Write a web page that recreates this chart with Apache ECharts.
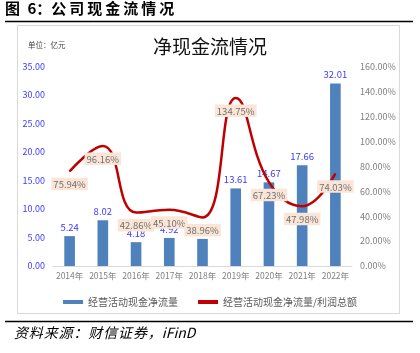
<!DOCTYPE html>
<html>
<head>
<meta charset="utf-8">
<script src="https://cdn.jsdelivr.net/npm/echarts@6/dist/echarts.min.js"></script>
<style>
  html, body { margin: 0; padding: 0; background: #fff; }
  #chart { width: 420px; height: 353px; }
</style>
</head>
<body>
<div id="chart"></div>
<script>
// data
const years = ['2014年', '2015年', '2016年', '2017年', '2018年', '2019年', '2020年', '2021年', '2022年'];
const cashFlow = [5.24, 8.02, 4.18, 4.92, 4.75, 13.61, 14.67, 17.66, 32.01];
const cashToProfit = [75.94, 96.16, 42.86, 45.10, 38.96, 134.75, 67.23, 47.98, 74.03];

const FONT = '"Noto Sans CJK SC", "Noto Sans", sans-serif';
const spaced = (s, sp) => s.split('').join(sp);

const chart = echarts.init(document.getElementById('chart'));

const option = {
  backgroundColor: '#fff',
  textStyle: { fontFamily: FONT },
  title: {
    text: '净现金流情况',
    left: 'center',
    top: 32,
    textStyle: { fontSize: 19, fontWeight: 'normal', color: '#111', fontFamily: FONT },
  },
  graphic: [
    {
      type: 'text',
      left: 5,
      top: 1,
      style: { text: '图\u2002' + '6：' + spaced('公司现金流情况', '\u2009'), fill: '#000', font: 'bold 15px ' + FONT },
    },
    { type: 'line', shape: { x1: 5, y1: 21.5, x2: 413, y2: 21.5 }, style: { stroke: '#000', lineWidth: 1.5 } },
    { type: 'rect', shape: { x: 17.5, y: 25.5, width: 382, height: 288 }, style: { fill: 'none', stroke: '#d9d9d9', lineWidth: 1 } },
    { type: 'text', left: 28, top: 41, style: { text: '单位：亿元', fill: '#444', font: '7.5px ' + FONT } },
    { type: 'line', shape: { x1: 5, y1: 321.5, x2: 413, y2: 321.5 }, style: { stroke: '#000', lineWidth: 1.5 } },
    {
      type: 'text',
      left: 14,
      top: 326,
      style: { text: spaced('资料来源：财信证券，', '\u200a') + 'iFinD', fill: '#000', font: 'italic 14px ' + FONT },
    },
  ],
  legend: {
    left: 'center',
    top: 292,
    itemGap: 20,
    itemWidth: 20,
    itemHeight: 4,
    textStyle: { fontSize: 10, color: '#595959', fontFamily: FONT },
    data: [
      { name: '经营活动现金净流量', icon: 'rect' },
      { name: '经营活动现金净流量/利润总额', icon: 'rect' },
    ],
  },
  grid: { left: 53, right: 68, top: 66.5, bottom: 87 },
  xAxis: {
    type: 'category',
    data: years,
    axisLine: { lineStyle: { color: '#d9d9d9' } },
    axisTick: { show: false },
    axisLabel: { interval: 0, fontSize: 8.5, color: '#808080', margin: 6, fontFamily: FONT },
  },
  yAxis: [
    {
      type: 'value',
      min: 0,
      max: 35,
      interval: 5,
      splitLine: { show: false },
      axisLine: { show: false },
      axisTick: { show: false },
      axisLabel: { fontSize: 9, color: '#3a3aff', margin: 8, formatter: (v) => v.toFixed(2) },
    },
    {
      type: 'value',
      min: 0,
      max: 160,
      interval: 20,
      splitLine: { show: false },
      axisLine: { show: false },
      axisTick: { show: false },
      axisLabel: { fontSize: 9, color: '#808080', margin: 8, formatter: (v) => v.toFixed(2) + '%' },
    },
  ],
  series: [
    {
      name: '经营活动现金净流量',
      type: 'bar',
      data: cashFlow,
      barWidth: '32%',
      itemStyle: { color: '#4f81bd' },
      label: {
        show: true,
        position: 'top',
        distance: 4,
        fontSize: 9.5,
        color: '#3a3aff',
        formatter: (p) => p.value.toFixed(2),
      },
      z: 2,
    },
    {
      name: '经营活动现金净流量/利润总额',
      type: 'line',
      yAxisIndex: 1,
      data: cashToProfit,
      smooth: 0.45,
      symbol: 'circle',
      symbolSize: 1,
      showSymbol: true,
      lineStyle: { color: '#c00000', width: 2.5 },
      itemStyle: { color: '#c00000' },
      label: {
        show: true,
        position: 'bottom',
        distance: 6,
        fontSize: 9.5,
        color: '#707070',
        backgroundColor: '#fbe5d6',
        padding: [2, 2, 1, 2],
        formatter: (p) => p.value.toFixed(2) + '%',
      },
      z: 3,
    },
  ],
};

chart.setOption(option);
</script>
</body>
</html>
